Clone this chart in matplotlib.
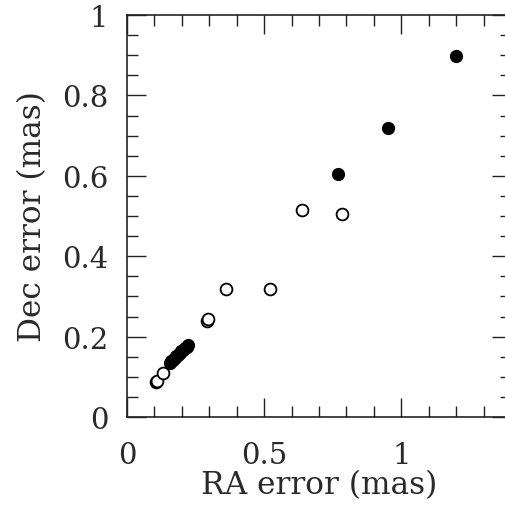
import matplotlib
matplotlib.use("Agg")
import matplotlib.pyplot as plt
from matplotlib.ticker import MultipleLocator

# open circles
ra_open = [0.104, 0.109, 0.131, 0.291, 0.296, 0.360, 0.522, 0.637, 0.784]
dec_open = [0.086, 0.090, 0.110, 0.239, 0.243, 0.318, 0.318, 0.515, 0.505]

# filled circles
ra_fill = [0.155, 0.162, 0.168, 0.174, 0.180, 0.186, 0.192, 0.198,
           0.205, 0.211, 0.217, 0.223, 0.769, 0.950, 1.200]
dec_fill = [0.134, 0.139, 0.143, 0.147, 0.151, 0.155, 0.159, 0.163,
            0.167, 0.171, 0.175, 0.178, 0.604, 0.718, 0.897]

plt.rcParams["font.family"] = "DejaVu Serif"

fig = plt.figure(figsize=(5.05, 5.06), dpi=100)
ax = fig.add_axes([127 / 505, 88 / 506, 384 / 505, 402 / 506])

ax.plot(ra_open, dec_open, "o", ms=8.5, mfc="white", mec="black", mew=1.3)
ax.plot(ra_fill, dec_fill, "o", ms=8.5, mfc="black", mec="black", mew=1.0)

ax.set_xlim(0, 1.4)
ax.set_ylim(0, 1)
ax.xaxis.set_major_locator(MultipleLocator(0.5))
ax.xaxis.set_minor_locator(MultipleLocator(0.1))
ax.yaxis.set_major_locator(MultipleLocator(0.2))
ax.yaxis.set_minor_locator(MultipleLocator(0.05))
ax.set_xticks([0, 0.5, 1])
ax.set_xticklabels(["0", "0.5", "1"])
ax.set_yticks([0, 0.2, 0.4, 0.6, 0.8, 1])
ax.set_yticklabels(["0", "0.2", "0.4", "0.6", "0.8", "1"])

ax.tick_params(which="both", direction="in", top=True, right=True,
               width=1.0, color="#222222", labelsize=21, labelcolor="#2a2a2a")
ax.tick_params(which="major", length=14)
ax.tick_params(which="minor", length=8)
ax.tick_params(axis="x", which="major", pad=17)
ax.tick_params(axis="y", which="major", pad=13.5)
for s in ax.spines.values():
    s.set_linewidth(1.2)
    s.set_color("#222222")

ax.set_xlabel("RA error (mas)", fontsize=22.5, color="#2a2a2a", labelpad=0)
ax.set_ylabel("Dec error (mas)", fontsize=22.5, color="#2a2a2a", labelpad=10)

fig.savefig("out.png", dpi=100)
